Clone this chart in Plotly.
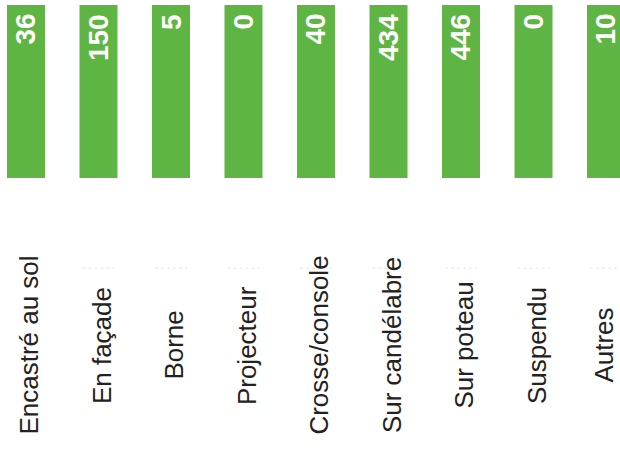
import plotly.graph_objects as go

categories = ["Encastré au sol", "En façade", "Borne", "Projecteur", "Crosse/console",
              "Sur candélabre", "Sur poteau", "Suspendu", "Autres"]
counts = [36, 150, 5, 0, 40, 434, 446, 0, 10]
# every cell of the table is drawn as a full green bar, the count is written inside
cell_fill = [1, 1, 1, 1, 1, 1, 1, 1, 1]

fig = go.Figure()
fig.add_trace(go.Bar(
    x=categories,
    y=cell_fill,
    marker=dict(color="#5fb544", line=dict(width=0)),
    hoverinfo="skip",
))

n = len(categories)
for i, (cat, val, h) in enumerate(zip(categories, counts, cell_fill)):
    # count written inside the top of the bar
    fig.add_annotation(
        x=cat, y=h, xref="x", yref="y",
        text=f"<b>{val}</b>", textangle=-90, showarrow=False,
        xanchor="center", yanchor="top", yshift=-7,
        font=dict(family="Liberation Sans", size=28, color="white"),
    )
    # category label below
    fig.add_annotation(
        x=cat, y=0.232, xref="x", yref="paper",
        text=cat, textangle=-90, showarrow=False,
        xanchor="center", yanchor="middle",
        xshift=3 if i < n - 1 else -2,
        font=dict(family="Liberation Sans", size=26, color="#222222"),
    )
    if i > 0:
        fig.add_shape(type="line", xref="x", yref="paper",
                      x0=i - 0.22, x1=i + 0.22, y0=0.404, y1=0.404,
                      line=dict(color="#e4e4e4", width=1, dash="dot"))

fig.update_layout(
    width=620, height=450,
    margin=dict(l=0, r=0, t=0, b=0),
    paper_bgcolor="white", plot_bgcolor="white",
    showlegend=False,
    bargap=0.476,
    xaxis=dict(range=[-0.3586, 8.193], showticklabels=False, showgrid=False,
               zeroline=False, showline=False, ticks=""),
    yaxis=dict(range=[-1.572, 1.029], showticklabels=False, showgrid=False,
               zeroline=False, showline=False, ticks=""),
)

fig.write_html("out.html")
